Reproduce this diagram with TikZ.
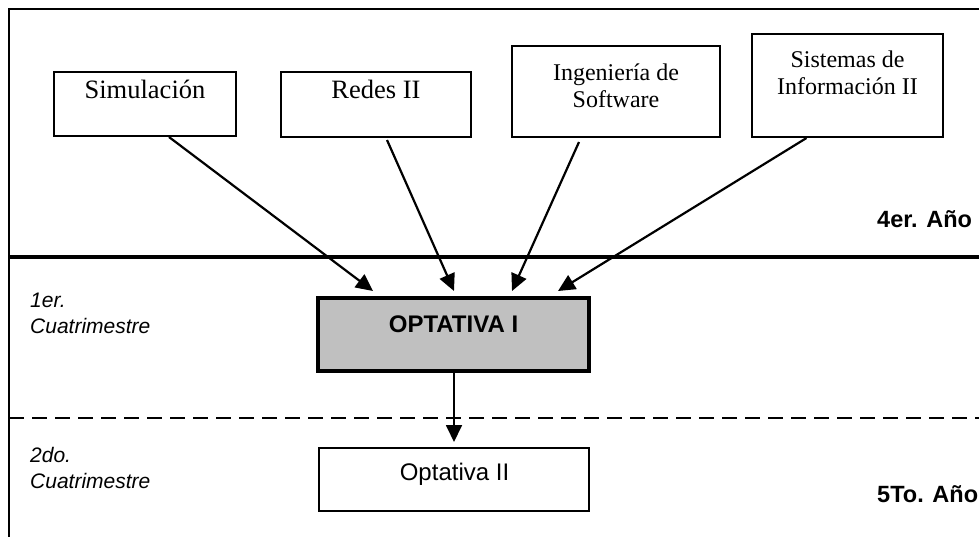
\documentclass[tikz,border=0pt]{standalone}
\usepackage{fontspec}
\setmainfont{Liberation Serif}
\setsansfont{Liberation Sans}
\usetikzlibrary{arrows.meta,calc}
\definecolor{optgray}{HTML}{C0C0C0}
\tikzset{
  box/.style={draw=black, line width=2pt, inner sep=0pt},
  boxtxt/.style={font=\fontsize{26.5}{30}\selectfont\rmfamily, inner sep=0pt, anchor=base},
  boxtxttwo/.style={font=\fontsize{24}{27}\selectfont\rmfamily, inner sep=0pt, anchor=base},
  sanstxt/.style={font=\fontsize{24}{28}\selectfont\sffamily, inner sep=0pt, anchor=base},
  yeartxt/.style={font=\fontsize{23.5}{28}\selectfont\sffamily\bfseries, inner sep=0pt, anchor=base west},
  semtxt/.style={font=\fontsize{21}{26}\selectfont\sffamily\itshape, inner sep=0pt, anchor=base west},
  conn/.style={line width=2.2pt, -{Triangle[length=17pt,width=16pt]}}
}
\begin{document}
\begin{tikzpicture}[x=1pt,y=-1pt]
\useasboundingbox (0,0) rectangle (979,536);
\clip (0,0) rectangle (979,536);
% frame and separators
\draw[line width=2pt] (9,545) -- (9,9) -- (995,9);
\draw[line width=3.4pt] (9,257) -- (990,257);
\draw[line width=2pt, dash pattern=on 15pt off 8pt] (9,418) -- (990,418);
% top boxes
\node[box, minimum width=182pt, minimum height=64pt] (sim) at (145,104) {};
\node[box, minimum width=190pt, minimum height=65pt] (red) at (376,104.5) {};
\node[box, minimum width=208pt, minimum height=91pt] (ing) at (616,91.5) {};
\node[box, minimum width=191pt, minimum height=103pt] (sis) at (847.5,85.5) {};
\node[boxtxt] (simt) at (145,98) {Simulación};
\node[boxtxt] (redt) at (376,98) {Redes II};
\node[boxtxttwo] (ingt1) at (616,80) {Ingeniería de};
\node[boxtxttwo] (ingt2) at (616,107) {Software};
\node[boxtxttwo] (sist1) at (847.5,67) {Sistemas de};
\node[boxtxttwo] (sist2) at (847.5,94) {Información II};
% optativas
\node[draw=black, line width=4pt, fill=optgray, minimum width=271pt, minimum height=73pt, inner sep=0pt] (opt1) at (453.5,334.5) {};
\node[sanstxt, font=\fontsize{24}{28}\selectfont\sffamily\bfseries] (opt1t) at (453.5,332) {OPTATIVA I};
\node[box, minimum width=270pt, minimum height=63pt] (opt2) at (454,479.5) {};
\node[sanstxt] (opt2t) at (454.5,480) {Optativa II};
% labels
\node[yeartxt] (y4) at (877,227) {4er. Año};
\node[yeartxt] (y5) at (877,502) {5To. Año};
\node[semtxt] (s1a) at (30,307) {1er.};
\node[semtxt] (s1b) at (30,333) {Cuatrimestre};
\node[semtxt] (s2a) at (30,462) {2do.};
\node[semtxt] (s2b) at (30,488) {Cuatrimestre};
% connectors
\draw[conn] ($(sim.south)+(24,0)$) -- ($(opt1.north)+(-80.5,-5)$);
\draw[conn] ($(red.south)+(11,2)$) -- ($(opt1.north)+(0.5,-5)$);
\draw[conn] ($(ing.south)+(-37,4)$) -- ($(opt1.north)+(58.5,-5)$);
\draw[conn] ($(sis.south)+(-41,0)$) -- ($(opt1.north)+(104.5,-5)$);
\draw[conn, line width=1.8pt] ($(opt1.south)+(0.5,-2)$) -- ($(opt2.north)+(0,-5)$);
\end{tikzpicture}
\end{document}
